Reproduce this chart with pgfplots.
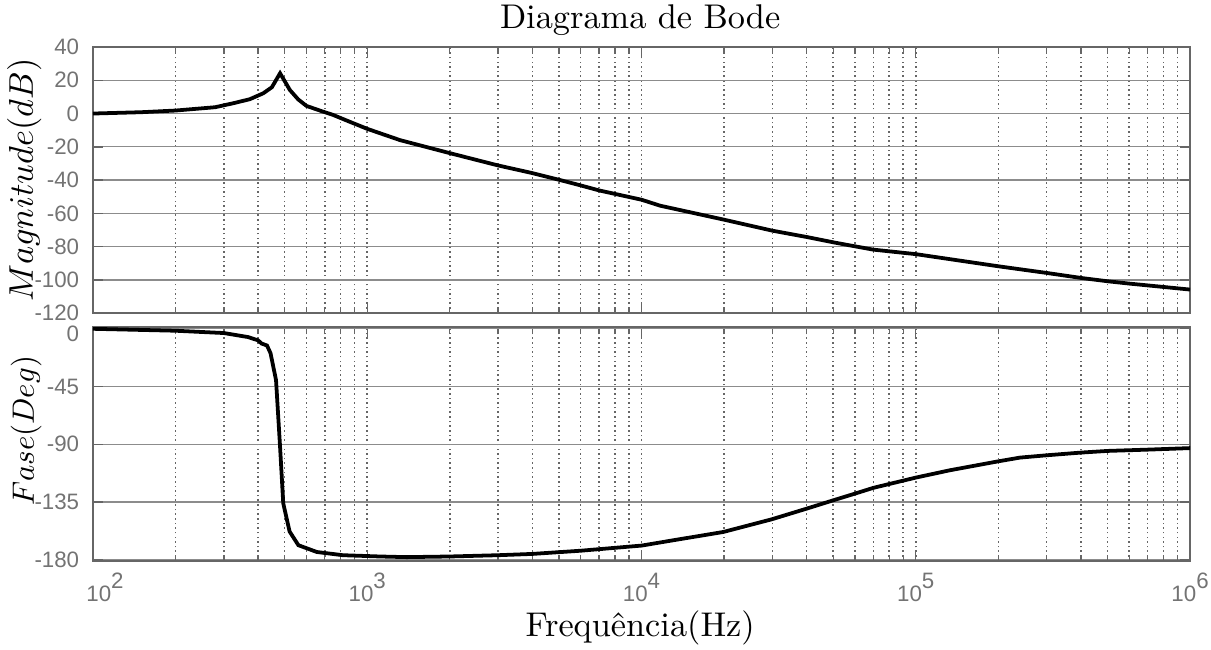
\documentclass[border=0pt]{standalone}
\usepackage{fontspec}
\usepackage{pgfplots}
\pgfplotsset{compat=1.18}
\newfontfamily\tickfont{Liberation Sans}

\pgfplotsset{
  bodeaxis/.style={
    xmin=100, xmax=1e6,
    scale only axis, width=319.8pt,
    axis line style={black!60, line width=0.5pt},
    xmajorgrids, xminorgrids, ymajorgrids,
    major grid style={black!45, line width=0.35pt},
    minor grid style={black!60, line width=0.45pt, dash pattern=on 0.45pt off 0.9pt},
    tick align=inside,
    major tick length=3pt, minor tick length=1.8pt,
    every tick/.style={black!60, line width=0.4pt},
    tick label style={font=\tickfont\fontsize{6.5}{7}\selectfont, text=black!55},
    yticklabel style={xshift=-0.5pt},
    ytick pos=both, xtick pos=both,
  }
}

\pgfplotstableread{
f mag
100 0
150 0.8
200 1.8
279 3.8
325 6.2
373 8.6
418 12.2
449 15.8
481 24.2
500 19.5
522 14.2
560 8.5
600 4.6
680 1.5
750 -0.8
850 -4.5
1000 -9.2
1318 -16
2000 -23.8
3000 -31.2
4000 -35.8
5000 -39.8
6000 -43.2
7000 -46.2
10000 -51.8
11700 -55.4
20000 -63.8
30000 -70.4
40000 -74.2
50000 -77.4
60000 -79.8
70000 -81.8
100000 -84.5
200000 -91.8
300000 -95.8
400000 -98.8
500000 -100.8
600000 -102.2
1000000 -105.8
}\magtable

\pgfplotstableread{
f ph
100 0
200 -1.5
300 -3.3
367 -6.4
400 -9
412 -11.5
431 -13
444 -19
465 -40
481 -92
494 -136
521 -158
561 -168.7
655 -174
815 -176.5
1113 -177.5
1393 -178
2000 -177.5
3000 -176.5
4000 -175.5
6000 -173
10000 -169
13800 -164
19860 -158.4
29850 -148.5
40000 -140.2
50000 -133.7
60000 -128.5
70000 -124
100000 -116
133000 -110.3
200000 -103.3
240000 -100.4
300000 -98.6
400000 -96.5
500000 -95.2
700000 -94.2
1000000 -93
}\phtable

\begin{document}
\begin{tikzpicture}
\begin{semilogxaxis}[bodeaxis,
  /pgf/number format/assume math mode=true,
  x grid style={black!60, line width=0.45pt, dash pattern=on 0.45pt off 0.9pt},
  at={(27.1pt,97.9pt)}, anchor=south west,
  height=77.6pt,
  ymin=-120, ymax=40, ytick={-120,-100,-80,-60,-40,-20,0,20,40},
  xtick={100,1000,10000,100000,1000000}, xticklabels={},
]
\addplot[black, line width=1.1pt] table[x=f, y=mag] {\magtable};
\end{semilogxaxis}
\begin{semilogxaxis}[bodeaxis,
  /pgf/number format/assume math mode=true,
  x grid style={black!60, line width=0.45pt, dash pattern=on 0.45pt off 0.9pt},
  at={(27.1pt,25.6pt)}, anchor=south west,
  height=68.2pt,
  ymin=-181.2, ymax=1.2, ytick={-180,-135,-90,-45},
  extra y ticks={0},
  extra y tick style={yticklabel style={yshift=-1.4pt}},
  xtick={100,1000,10000,100000,1000000},
  xticklabels={{\hspace*{7pt}10\raisebox{3.7pt}{2}},{10\raisebox{3.7pt}{3}},{10\raisebox{3.7pt}{4}},{10\raisebox{3.7pt}{5}},{10\raisebox{3.7pt}{6}}},
]
\addplot[black, line width=1.1pt] table[x=f, y=ph] {\phtable};
\end{semilogxaxis}
\node at (186.6pt,183.4pt) {Diagrama de Bode};
\node at (186.6pt,6.1pt) {Frequência(Hz)};
\node[rotate=90] at (7.1pt,136.7pt) {$Magnitude(dB)$};
\node[rotate=90, scale=0.9] at (7.6pt,63.6pt) {$Fase(Deg)$};
\pgfresetboundingbox
\useasboundingbox (0,0) rectangle (353pt,189.2pt);
\end{tikzpicture}
\end{document}
